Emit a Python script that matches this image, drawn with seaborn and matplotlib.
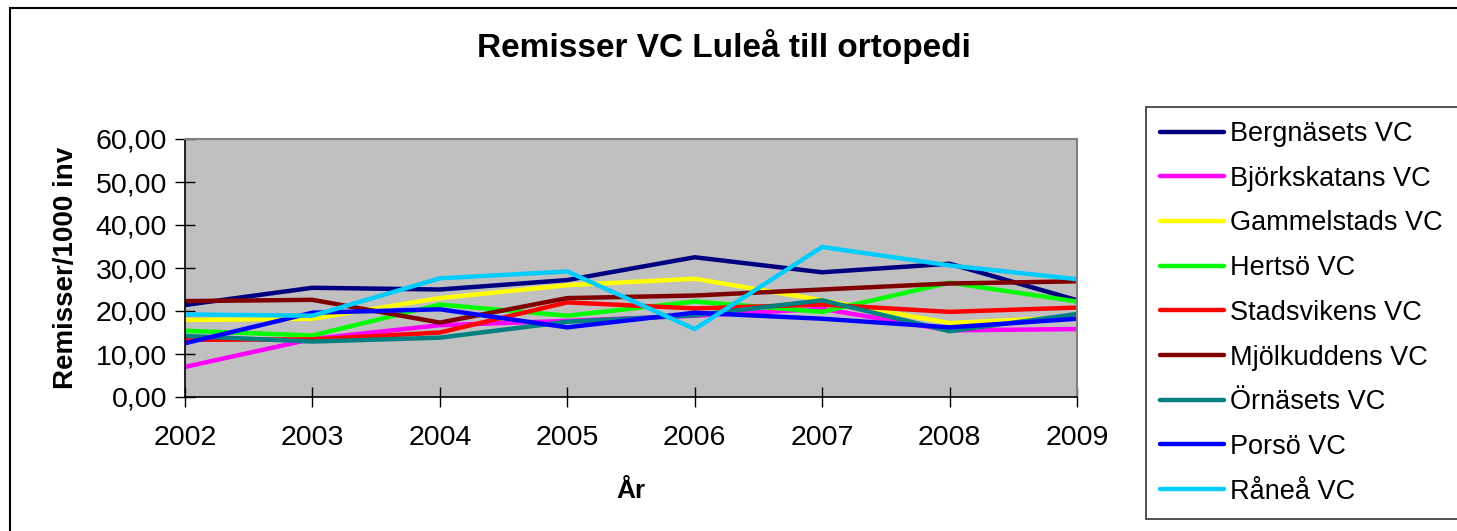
import matplotlib
matplotlib.use("Agg")
import matplotlib.pyplot as plt
from matplotlib.patches import Rectangle
import seaborn as sns
import pandas as pd

# values (remisser per 1000 inv)
years = [2002, 2003, 2004, 2005, 2006, 2007, 2008, 2009]
bergnaset = [21.4, 25.4, 25.0, 27.2, 32.5, 29.0, 31.0, 22.5]
bjorkskatan = [7.0, 13.5, 16.7, 17.7, 18.9, 20.5, 15.5, 15.8]
gammelstad = [17.9, 18.2, 23.0, 26.0, 27.5, 22.5, 17.2, 18.6]
hertso = [15.4, 14.3, 21.5, 18.9, 22.2, 19.8, 26.6, 22.2]
stadsviken = [13.3, 13.4, 15.0, 22.0, 20.6, 21.5, 19.8, 20.8]
mjolkudden = [22.3, 22.6, 17.3, 23.0, 23.6, 25.0, 26.4, 26.9]
ornaset = [14.2, 12.9, 13.8, 17.5, 19.0, 22.5, 15.3, 19.3]
porso = [12.5, 19.6, 20.4, 16.2, 19.6, 18.2, 16.2, 18.2]
ranea = [19.2, 18.9, 27.6, 29.2, 15.8, 34.9, 30.6, 27.4]

names = ["Bergnäsets VC", "Björkskatans VC", "Gammelstads VC", "Hertsö VC",
         "Stadsvikens VC", "Mjölkuddens VC", "Örnäsets VC", "Porsö VC", "Råneå VC"]
series = [bergnaset, bjorkskatan, gammelstad, hertso, stadsviken,
          mjolkudden, ornaset, porso, ranea]
colors = ["#000080", "#FF00FF", "#FFFF00", "#00FF00", "#FF0000",
          "#800000", "#008080", "#0000FF", "#00CCFF"]

yticks = [0, 10, 20, 30, 40, 50, 60]
ytick_labels = ["0,00", "10,00", "20,00", "30,00", "40,00", "50,00", "60,00"]

rows = []
for name, vals in zip(names, series):
    for yr, v in zip(years, vals):
        rows.append({"År": yr, "Remisser": v, "VC": name})
df = pd.DataFrame(rows)

sns.set_style("white")
plt.rcParams["font.family"] = ["Liberation Sans", "DejaVu Sans"]
plt.rcParams["text.color"] = "black"
plt.rcParams["axes.labelcolor"] = "black"
plt.rcParams["xtick.color"] = "black"
plt.rcParams["ytick.color"] = "black"

fig = plt.figure(figsize=(14.57, 5.31), dpi=100)
ax = fig.add_axes([185 / 1457, 1 - 397 / 531, (1077 - 185) / 1457, (397 - 139) / 531])

sns.lineplot(data=df, x="År", y="Remisser", hue="VC", hue_order=names,
             palette=dict(zip(names, colors)), linewidth=3.2, ax=ax)

ax.set_facecolor("#C0C0C0")
ax.set_xlim(2002, 2009)
ax.set_ylim(0, 60)
ax.set_xticks(years)
ax.set_xticklabels([str(y) for y in years])
ax.set_yticks(yticks)
ax.set_yticklabels(ytick_labels)
ax.tick_params(axis="both", direction="inout", length=14, width=1,
               color="black", bottom=True, left=True, labelsize=20.5)
ax.tick_params(axis="x", pad=13)
ax.tick_params(axis="y", pad=6)
for s in ["left", "bottom"]:
    ax.spines[s].set_color("black")
    ax.spines[s].set_linewidth(1.2)
for s in ["top", "right"]:
    ax.spines[s].set_color("#808080")
    ax.spines[s].set_linewidth(1.5)

ax.set_xlabel("År", fontsize=19, fontweight="bold", labelpad=20)
ax.set_ylabel("Remisser/1000 inv", fontsize=20, fontweight="bold", labelpad=12)

fig.text(724 / 1457, 1 - 47 / 531, "Remisser VC Luleå till ortopedi",
         fontsize=24, fontweight="bold", ha="center", va="center")

handles, labels = ax.get_legend_handles_labels()
ax.get_legend().remove()
leg = fig.legend(handles, labels, loc="upper left",
                 bbox_to_anchor=(1146 / 1457, 1 - 107 / 531, 0.3, 0.0),
                 mode="expand",
                 fontsize=19.5, handlelength=2.35, handletextpad=0.25,
                 labelspacing=0.69, borderaxespad=0, borderpad=0.52,
                 frameon=True, fancybox=False)
leg.get_frame().set_edgecolor("black")
leg.get_frame().set_linewidth(1.2)
for line in leg.get_lines():
    line.set_linewidth(3.2)

# outer chart border
fig.patches.append(Rectangle((10 / 1457, -0.1), 1.2, 1 - 8 / 531 + 0.1,
                             transform=fig.transFigure, fill=False,
                             edgecolor="black", linewidth=1.5))

fig.savefig("out.png", dpi=100)
